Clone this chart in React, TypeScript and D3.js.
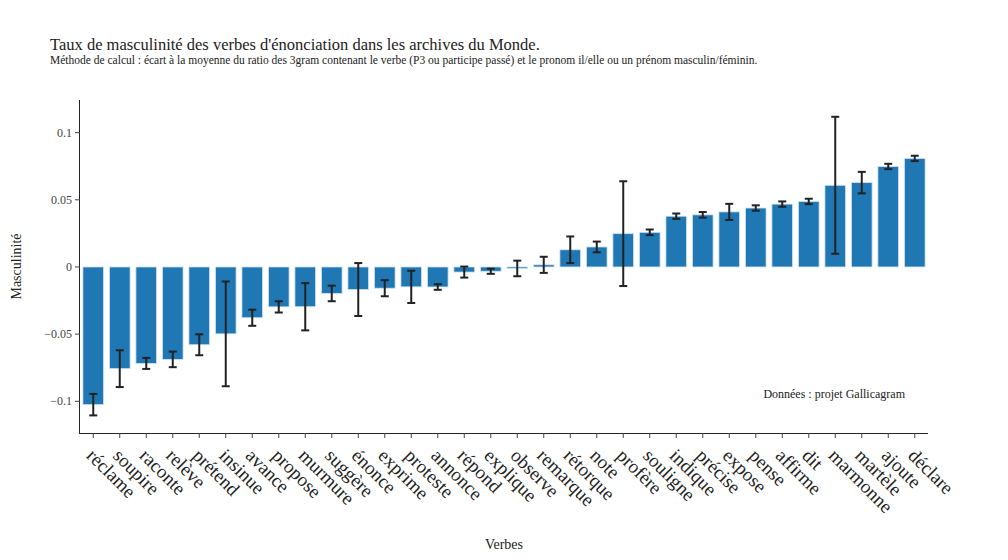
import React from "react";
import * as d3 from "d3";

const verbs = [
  "réclame", "soupire", "raconte", "relève", "prétend", "insinue", "avance", "propose",
  "murmure", "suggère", "énonce", "exprime", "proteste", "annonce", "répond", "explique",
  "observe", "remarque", "rétorque", "note", "profère", "souligne", "indique", "précise",
  "expose", "pense", "affirme", "dit", "marmonne", "martèle", "ajoute", "déclare",
];
const masculinity = [
  -0.1025, -0.0757, -0.0718, -0.0688, -0.0579, -0.0498, -0.0378, -0.0297,
  -0.0296, -0.0197, -0.0168, -0.0158, -0.0148, -0.0149, -0.0038, -0.0032,
  -0.0011, 0.0016, 0.0128, 0.0149, 0.0248, 0.0258, 0.0378, 0.0388,
  0.041, 0.0439, 0.0468, 0.0488, 0.0608, 0.0628, 0.0748, 0.0808,
];
const errors = [
  0.008, 0.0137, 0.0041, 0.0058, 0.0078, 0.039, 0.006, 0.0042,
  0.0176, 0.0058, 0.0197, 0.006, 0.012, 0.0021, 0.0041, 0.0019,
  0.0058, 0.006, 0.0099, 0.004, 0.039, 0.0021, 0.002, 0.0021,
  0.006, 0.002, 0.002, 0.002, 0.051, 0.008, 0.002, 0.002,
];
const yTicks = [-0.1, -0.05, 0, 0.05, 0.1];

const W = 1008;
const H = 560;
const left = 80;
const right = 928;
const top = 100;
const bottom = 433;
const FONT = "'Liberation Serif', 'DejaVu Serif', serif";

export default function App() {
  const x = d3.scaleBand<string>().domain(verbs).range([left, right]).paddingInner(0.22).paddingOuter(0.11);
  const y = d3.scaleLinear().domain([-0.1236, 0.1243]).range([bottom, top]);
  const fmt = (v: number) => (v === 0 ? "0" : d3.format("")(v).replace("-", "−"));
  const bw = x.bandwidth();
  const cap = 4;

  return (
    <svg width={W} height={H} style={{ position: "absolute", left: 0, top: 0, background: "#fff" }} fontFamily={FONT}>
      <text x={50} y={50} fontSize={16.5} fill="#222">
        Taux de masculinité des verbes d'énonciation dans les archives du Monde.
      </text>
      <text x={50} y={64} fontSize={11.5} fill="#222">
        Méthode de calcul : écart à la moyenne du ratio des 3gram contenant le verbe (P3 ou participe passé) et le pronom il/elle ou un prénom masculin/féminin.
      </text>

      {/* bars */}
      {verbs.map((v, i) => {
        const val = masculinity[i];
        const y0 = y(0);
        const y1 = y(val);
        return (
          <rect
            key={v}
            x={x(v)}
            y={Math.min(y0, y1)}
            width={bw}
            height={Math.max(Math.abs(y1 - y0), 0.5)}
            fill="#1f77b4"
            stroke="#d4e4f1"
            strokeWidth={0.8}
          />
        );
      })}

      {/* error bars */}
      {verbs.map((v, i) => {
        const cx = (x(v) as number) + bw / 2;
        const hi = y(masculinity[i] + errors[i]);
        const lo = y(masculinity[i] - errors[i]);
        return (
          <g key={"e" + v} stroke="#222" strokeWidth={2}>
            <line x1={cx} x2={cx} y1={hi} y2={lo} />
            <line x1={cx - cap} x2={cx + cap} y1={hi} y2={hi} />
            <line x1={cx - cap} x2={cx + cap} y1={lo} y2={lo} />
          </g>
        );
      })}

      {/* y axis */}
      <line x1={left - 0.5} x2={left - 0.5} y1={top} y2={bottom + 0.5} stroke="#222" strokeWidth={1} />
      {yTicks.map((t) => (
        <g key={t}>
          <line x1={left - 5} x2={left} y1={y(t)} y2={y(t)} stroke="#444" strokeWidth={1} />
          <text x={left - 8} y={y(t)} dy="0.35em" textAnchor="end" fontSize={12} fill="#444">
            {fmt(t)}
          </text>
        </g>
      ))}
      <text
        transform={`translate(21,${(top + bottom) / 2}) rotate(-90)`}
        textAnchor="middle"
        fontSize={14}
        fill="#222"
      >
        Masculinité
      </text>

      {/* x axis */}
      <line x1={left - 1} x2={right} y1={bottom + 0.5} y2={bottom + 0.5} stroke="#222" strokeWidth={1} />
      {verbs.map((v) => {
        const cx = (x(v) as number) + bw / 2;
        return (
          <g key={"t" + v}>
            <line x1={cx} x2={cx} y1={bottom} y2={bottom + 5} stroke="#444" strokeWidth={1} />
            <text
              transform={`translate(${cx - 3},${bottom + 19}) rotate(45)`}
              textAnchor="start"
              dy="0.35em"
              fontSize={19}
              fill="#222"
            >
              {v}
            </text>
          </g>
        );
      })}
      <text x={504} y={549} textAnchor="middle" fontSize={14} fill="#222">
        Verbes
      </text>

      <text x={905} y={398} textAnchor="end" fontSize={12} fill="#222">
        Données : projet Gallicagram
      </text>
    </svg>
  );
}
